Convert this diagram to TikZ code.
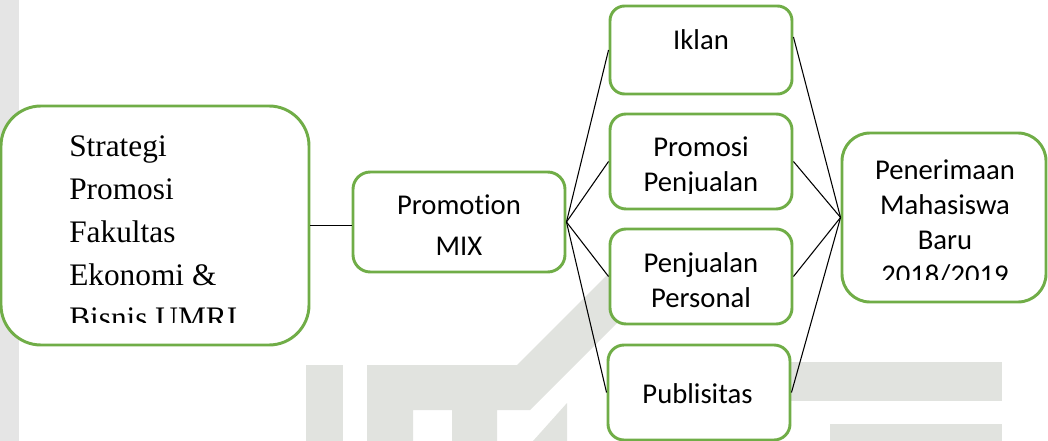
\documentclass[tikz,border=0pt]{standalone}
\usepackage{fontspec}
\setmainfont{Liberation Serif}
\newfontfamily\calibri[Ligatures=NoCommon]{Carlito}
\usepackage{xcolor}
\definecolor{boxgreen}{RGB}{112,173,71}
\definecolor{wmgrey}{RGB}{225,227,223}
\definecolor{stripgrey}{RGB}{229,229,229}

\begin{document}
\begin{tikzpicture}[x=0.75pt,y=-0.75pt,
  box/.style={draw=boxgreen,line width=2.2pt,fill=white,inner sep=0pt},
  lbl/.style={font=\calibri\fontsize{21.5}{26.25}\selectfont,align=center,inner sep=0pt,anchor=base},
  serif/.style={font=\fontsize{23.5}{32.25}\selectfont,align=left,inner sep=0pt,anchor=base west}]
\useasboundingbox (0,0) rectangle (1048,441);

% watermark in the background
\fill[stripgrey] (0,0) rectangle (19,441);
\fill[wmgrey] (306,365) rectangle (343,441);
\fill[wmgrey] (367,441) -- (367,365) -- (517,365) -- (640,242) -- (698,242) -- (530,410)
  -- (497,410) -- (497,441) -- (452,441) -- (452,410) -- (413,410) -- (413,441) -- cycle;
\fill[wmgrey] (533,441) -- (567,403) -- (567,441) -- cycle;
\fill[wmgrey] (790,362) rectangle (1002,401);
\fill[wmgrey] (830,424) rectangle (1002,441);

% boxes
\node[box,rounded corners=30pt,minimum width=231pt,minimum height=179.25pt] (strategi) at (155,225.5) {};
\node[box,rounded corners=13pt,minimum width=159pt,minimum height=75pt] (promo) at (459,222) {};
\node[box,rounded corners=11pt,minimum width=136.5pt,minimum height=66pt] (iklan) at (701,50) {};
\node[box,rounded corners=12pt,minimum width=136.5pt,minimum height=71.25pt] (promosi) at (701,161.5) {};
\node[box,rounded corners=12pt,minimum width=136.5pt,minimum height=71.25pt] (penjualan) at (701,276.5) {};
\node[box,rounded corners=12pt,minimum width=136.5pt,minimum height=71.25pt] (publisitas) at (699,392.5) {};
\node[box,rounded corners=21pt,minimum width=153pt,minimum height=126.75pt] (penerimaan) at (944,217.5) {};

% texts, placed by the baseline of their last line (cut off at the bottom as in the source)
\begin{scope}
\clip (0,106) rectangle (310,322);
\node[serif] (t-strategi) at (69,329) {Strategi\\Promosi\\Fakultas\\Ekonomi \&\\Bisnis UMRI};
\end{scope}
\node[lbl,font=\calibri\fontsize{21.5}{30.75}\selectfont] (t-promo) at (459,256) {Promotion\\MIX};
\node[lbl] (t-iklan) at (701,50) {Iklan};
\begin{scope}
\clip (600,110) rectangle (800,194);
\node[lbl] (t-promosi) at (701,192) {Promosi\\Penjualan};
\end{scope}
\node[lbl] (t-penjualan) at (701,307) {Penjualan\\Personal};
\node[lbl] (t-publisitas) at (697.5,403) {Publisitas};
\begin{scope}
\clip (842,133) rectangle (1048,280);
\node[lbl] (t-penerimaan) at (945,285) {Penerimaan\\Mahasiswa\\Baru\\2018/2019};
\end{scope}

% connectors
\draw[line width=0.8pt] (strategi.east) -- (strategi.east -| promo.west);
\foreach \b in {iklan,promosi,penjualan,publisitas}
  \draw[line width=0.8pt] (promo.east) -- (\b.west);
\draw[line width=0.8pt] (iklan.8) -- (penerimaan.west);
\foreach \b in {promosi,penjualan,publisitas}
  \draw[line width=0.8pt] (\b.east) -- (penerimaan.west);
\end{tikzpicture}
\end{document}
